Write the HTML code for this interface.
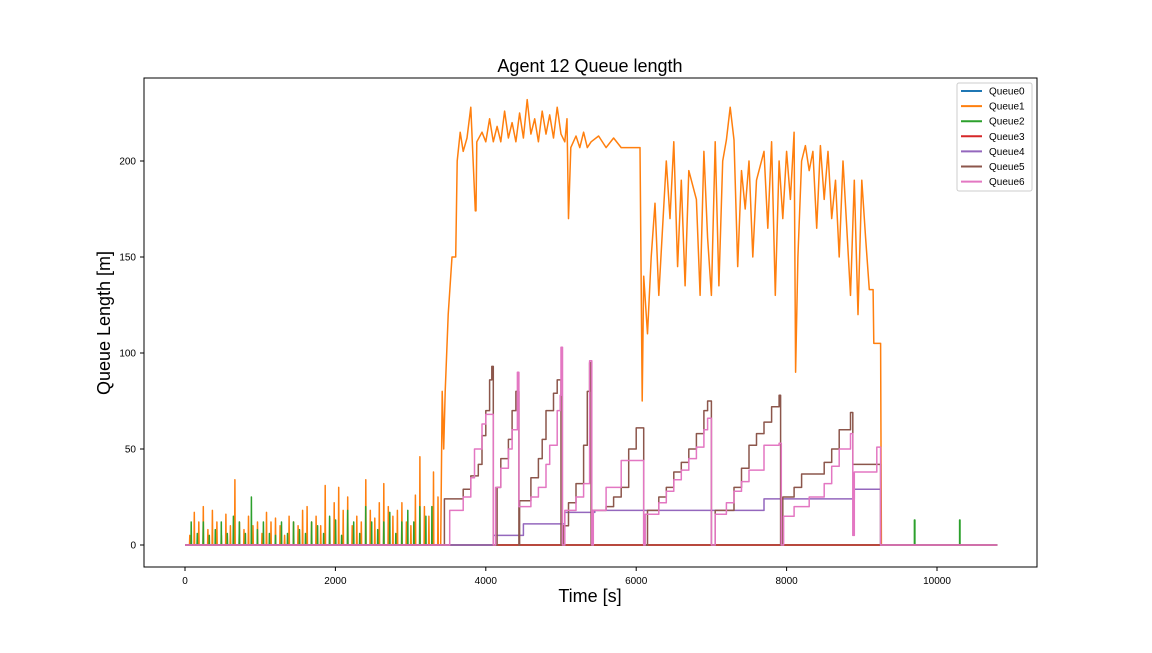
<!DOCTYPE html>
<html><head><meta charset="utf-8"><style>
body{margin:0;background:#fff}
svg text{font-family:"Liberation Sans","DejaVu Sans",sans-serif}
</style></head><body>
<svg id="chart" width="1152" height="648" xmlns="http://www.w3.org/2000/svg">
<rect width="1152" height="648" fill="#fff"/>
<text x="590" y="72" font-size="18" text-anchor="middle">Agent 12 Queue length</text>
<text x="590" y="602" font-size="18" text-anchor="middle">Time [s]</text>
<text transform="translate(110,323) rotate(-90)" font-size="18" text-anchor="middle">Queue Length [m]</text>
<g id="ticks"></g>
<g id="series"></g>
<rect x="144" y="78" width="893" height="489" fill="none" stroke="#000" stroke-width="1"/>
<g id="legend"></g>
</svg>
<script>
const xTicks=[0,2000,4000,6000,8000,10000];
const yTicks=[0,50,100,150,200];
const seriesNames=["Queue0","Queue1","Queue2","Queue3","Queue4","Queue5","Queue6"];
const seriesColors=["#1f77b4","#ff7f0e","#2ca02c","#d62728","#9467bd","#8c564b","#e377c2"];
const q1SpikeHeights=[5,17,12,20,8,18,12,5,16,10,34,12,8,15,10,12,6,17,12,14,10,5,15,12,10,18,20,12,15,10,31,14,22,30,18,25,10,15,12,34,18,14,22,32,20,15,18,22,12,10,26,46,20,15,38,25];
const q1Times=[3400,3420,3440,3460,3500,3550,3600,3620,3660,3700,3750,3800,3820,3860,3870,3880,3950,4000,4050,4100,4150,4200,4250,4300,4350,4400,4450,4500,4550,4600,4650,4700,4750,4800,4850,4900,4950,5000,5050,5080,5100,5130,5200,5250,5300,5350,5400,5500,5600,5700,5800,6050,6080,6100,6150,6200,6250,6300,6400,6450,6500,6550,6600,6650,6700,6800,6850,6900,6950,7000,7050,7100,7150,7200,7250,7300,7350,7400,7450,7500,7550,7600,7700,7750,7800,7850,7900,7950,8000,8050,8100,8120,8150,8200,8250,8300,8350,8400,8450,8500,8550,8600,8650,8700,8750,8800,8850,8900,8950,9000,9050,9100,9150,9160,9250,9260,10800];
const q1Values=[0,80,50,80,120,150,150,200,215,205,212,228,210,174,174,210,215,210,222,210,218,210,226,212,220,210,225,212,232,214,222,210,226,214,224,212,228,214,210,222,170,207,213,207,215,207,210,213,207,212,207,207,75,140,110,150,178,130,200,170,210,145,190,135,195,180,130,205,160,130,210,135,200,211,228,211,145,195,175,200,150,190,205,165,210,130,200,170,205,180,215,90,150,200,208,195,205,165,208,180,205,170,190,150,200,165,130,190,120,190,160,133,133,105,105,0,0];
const q2SpikeHeights=[12,6,12,5,8,12,6,15,12,6,25,8,12,6,5,12,6,12,8,6,12,10,6,15,13,5,18,12,6,20,12,8,12,17,6,12,18,12,20,15,20];
const q2LateTimes=[9700,10300];
const q2LateValues=[13,13];
const q3Times=[0,10800];
const q3Values=[0,0];
const q0Times=[0,10800];
const q0Values=[0,0];
// step series: value holds from each time until the next
const q4Times=[0,4100,4500,5050,5450,7700,8900,9250,10800];
const q4Values=[0,5,11,17,18,24,29,0,0];
const q5Times=[0,3450,3700,3800,3900,3950,4000,4050,4080,4100,4150,4200,4300,4350,4400,4440,4450,4600,4700,4750,4800,4900,4950,5000,5030,5100,5200,5300,5350,5380,5400,5420,5600,5700,5800,5900,6000,6100,6150,6300,6400,6500,6600,6700,6800,6900,6950,7000,7050,7300,7400,7500,7600,7700,7800,7900,7920,7950,8100,8200,8500,8600,8700,8850,8880,9250,10800];
const q5Values=[0,24,29,36,42,57,70,86,93,0,30,45,55,70,80,0,23,35,45,55,70,79,86,0,10,22,32,52,80,95,0,18,20,25,30,50,61,0,18,25,30,38,43,50,58,70,75,0,18,30,40,52,58,64,72,78,0,25,30,37,43,50,60,69,42,0,0];
const q6Times=[0,3520,3700,3800,3850,3950,4000,4100,4130,4200,4300,4350,4420,4440,4600,4700,4800,4850,4950,4990,5000,5020,5050,5200,5300,5380,5410,5430,5600,5800,6100,6120,6300,6400,6500,6600,6700,6800,6900,6950,7000,7050,7200,7300,7400,7500,7700,7900,7930,7960,8100,8300,8500,8600,8700,8850,8880,8900,9200,9250,10800];
const q6Values=[0,18,25,35,50,63,68,0,30,40,50,60,90,20,25,30,42,52,70,78,103,0,18,25,32,96,0,18,30,44,0,16,22,28,34,39,45,51,60,66,0,16,22,28,33,39,52,53,0,15,20,25,32,41,50,58,5,38,51,0,0];

const X=t=>185+t*0.07520;
const Y=v=>545-v*1.92;
const NS="http://www.w3.org/2000/svg";
const tg=document.getElementById('ticks');
xTicks.forEach(t=>{
  const l=document.createElementNS(NS,'line');
  l.setAttribute('x1',X(t));l.setAttribute('x2',X(t));l.setAttribute('y1',567);l.setAttribute('y2',571);l.setAttribute('stroke','#000');
  
  
  tg.appendChild(l);
  const tx=document.createElementNS(NS,'text');
  tx.setAttribute('x',X(t));tx.setAttribute('y',584);tx.setAttribute('font-size','10');tx.setAttribute('text-anchor','middle');
  tx.textContent=t;
  
  
  tg.appendChild(tx);
});
yTicks.forEach(v=>{
  const l=document.createElementNS(NS,'line');
  l.setAttribute('x1',140);l.setAttribute('x2',144);l.setAttribute('y1',Y(v));l.setAttribute('y2',Y(v));l.setAttribute('stroke','#000');
  
  
  tg.appendChild(l);
  const tx=document.createElementNS(NS,'text');
  tx.setAttribute('x',136);tx.setAttribute('y',Y(v)+3.5);tx.setAttribute('font-size','10');tx.setAttribute('text-anchor','end');
  tx.textContent=v;
  
  
  tg.appendChild(tx);
});
function spikes(heights,step,w){
  const T=[0],V=[0];
  heights.forEach((h,i)=>{const t=step*(i+1);T.push(t,t+w/2,t+w);V.push(0,h,0);});
  return [T,V];
}
function steps(T,V){
  const a=[],b=[];
  T.forEach((t,i)=>{ if(i>0){a.push(t);b.push(V[i-1]);} a.push(t);b.push(V[i]); });
  return [a,b];
}
const [s1T,s1V]=spikes(q1SpikeHeights,60,8);
const [s2T,s2V]=spikes(q2SpikeHeights,80,6);
const q2T=s2T.slice(),q2V=s2V.slice();
q2LateTimes.forEach((t,i)=>{q2T.push(t,t,t+6,t+6);q2V.push(0,q2LateValues[i],q2LateValues[i],0);});
q2T.push(10800);q2V.push(0);
const all=[
  [q0Times,q0Values],
  [s1T.concat(q1Times),s1V.concat(q1Values)],
  [q2T,q2V],
  [q3Times,q3Values],
  steps(q4Times,q4Values),
  steps(q5Times,q5Values),
  steps(q6Times,q6Values)
];
const sg=document.getElementById('series');
[0,1,2,3,4,5,6].forEach(i=>{
  const [T,V]=all[i];
  const p=document.createElementNS(NS,'polyline');
  p.setAttribute('points',T.map((t,k)=>X(t).toFixed(1)+','+Y(V[k]).toFixed(1)).join(' '));
  p.setAttribute('fill','none');p.setAttribute('stroke',seriesColors[i]);p.setAttribute('stroke-width','1.5');
  p.setAttribute('stroke-linejoin','round');
  
  
  sg.appendChild(p);
});
const lg=document.getElementById('legend');
const box=document.createElementNS(NS,'rect');
box.setAttribute('x',957);box.setAttribute('y',83);box.setAttribute('width',75);box.setAttribute('height',108);
box.setAttribute('rx',2);box.setAttribute('fill','#fff');box.setAttribute('stroke','#ccc');


lg.appendChild(box);
seriesNames.forEach((n,i)=>{
  const y=91+i*15.1;
  const l=document.createElementNS(NS,'line');
  l.setAttribute('x1',961);l.setAttribute('x2',982);l.setAttribute('y1',y);l.setAttribute('y2',y);
  l.setAttribute('stroke',seriesColors[i]);l.setAttribute('stroke-width','2');
  
  
  lg.appendChild(l);
  const tx=document.createElementNS(NS,'text');
  tx.setAttribute('x',989);tx.setAttribute('y',y+3.5);tx.setAttribute('font-size','10');
  tx.textContent=n;
  
  
  lg.appendChild(tx);
});
</script>
</body></html>
